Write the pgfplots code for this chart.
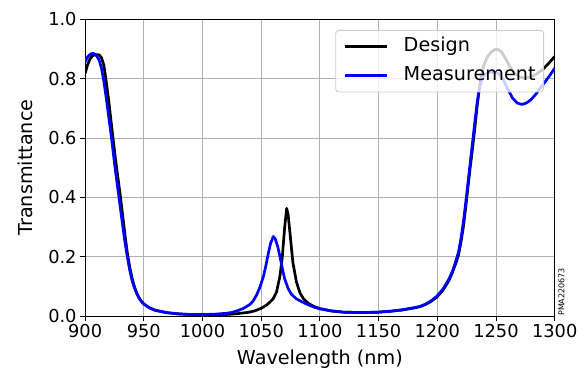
\documentclass[border=0pt]{standalone}
\usepackage{fontspec}
\setmainfont{DejaVu Sans}
\usepackage{pgfplots}
\pgfplotsset{compat=1.18}
\definecolor{gridgray}{RGB}{176,176,176}
\definecolor{legedge}{RGB}{204,204,204}
\definecolor{mblue}{RGB}{0,0,255}
\pgfplotstableread{
x y
900 0.817
902 0.845
904 0.865
906 0.876
908 0.880
910 0.881
912 0.880
914 0.870
916 0.845
918 0.790
920 0.730
922 0.660
924 0.592
926 0.525
928 0.465
930 0.405
932 0.340
934 0.272
936 0.212
938 0.165
940 0.128
942 0.099
944 0.077
946 0.061
948 0.049
950 0.040
955 0.027
960 0.019
970 0.011
980 0.007
990 0.005
1000 0.004
1010 0.004
1020 0.005
1030 0.008
1040 0.013
1045 0.018
1050 0.026
1055 0.038
1060 0.057
1063 0.080
1066 0.135
1068 0.200
1070 0.300
1071.7 0.363
1073 0.340
1075 0.260
1077 0.180
1080 0.115
1083 0.078
1086 0.058
1090 0.043
1095 0.032
1100 0.025
1110 0.017
1120 0.013
1130 0.012
1140 0.012
1150 0.013
1160 0.016
1170 0.020
1180 0.027
1185 0.031
1190 0.039
1195 0.050
1200 0.065
1205 0.088
1210 0.120
1213 0.148
1216 0.180
1218 0.205
1220 0.245
1222 0.295
1224 0.360
1226 0.430
1228 0.500
1230 0.565
1232 0.635
1234 0.710
1236 0.775
1238 0.820
1240 0.850
1243 0.875
1246 0.890
1249 0.898
1252 0.898
1255 0.888
1258 0.868
1262 0.840
1266 0.818
1270 0.806
1274 0.802
1278 0.804
1282 0.810
1286 0.820
1290 0.832
1295 0.852
1300 0.875
}\design
\pgfplotstableread{
x y
900 0.856
902 0.872
904 0.881
906 0.885
908 0.884
910 0.876
912 0.862
914 0.835
916 0.790
918 0.735
920 0.675
922 0.615
924 0.550
926 0.485
928 0.425
930 0.365
932 0.305
934 0.248
936 0.198
938 0.155
940 0.120
942 0.095
944 0.075
946 0.060
948 0.049
950 0.041
955 0.027
960 0.019
970 0.011
980 0.007
990 0.005
1000 0.005
1010 0.006
1020 0.009
1025 0.012
1030 0.018
1035 0.026
1040 0.038
1043 0.050
1046 0.070
1049 0.098
1052 0.135
1054 0.170
1056 0.210
1058 0.245
1060.3 0.268
1062 0.260
1064 0.235
1066 0.200
1068 0.160
1070 0.125
1073 0.092
1076 0.072
1080 0.058
1085 0.047
1090 0.038
1095 0.030
1100 0.024
1110 0.017
1120 0.013
1130 0.012
1140 0.012
1150 0.013
1160 0.016
1170 0.021
1180 0.028
1185 0.032
1190 0.040
1195 0.052
1200 0.068
1205 0.092
1210 0.125
1213 0.152
1216 0.188
1218 0.215
1220 0.258
1222 0.310
1224 0.375
1226 0.445
1228 0.515
1230 0.585
1232 0.655
1234 0.720
1236 0.770
1238 0.800
1241 0.815
1244 0.820
1248 0.822
1252 0.818
1256 0.798
1260 0.765
1264 0.735
1268 0.718
1272 0.713
1276 0.718
1280 0.730
1284 0.748
1288 0.770
1292 0.790
1296 0.812
1300 0.835
}\measure
\begin{document}
\begin{tikzpicture}
\begin{axis}[
  scale only axis,
  width=469.6pt, height=296.7pt,
  xmin=900, xmax=1300, ymin=0, ymax=1,
  xtick={900,950,1000,1050,1100,1150,1200,1250,1300},
  ytick={0,0.2,0.4,0.6,0.8,1.0},
  /pgf/number format/assume math mode=true,
  xticklabel style={/pgf/number format/.cd, 1000 sep={}},
  yticklabel style={/pgf/number format/.cd, fixed, fixed zerofill, precision=1},
  ticklabel style={font=\fontsize{17.8}{20}\selectfont},
  tick align=outside, tick pos=left,
  major tick length=5pt,
  tick style={black, line width=0.9pt},
  axis line style={line width=0.9pt},
  grid=major,
  grid style={color=gridgray, line width=0.9pt},
  xlabel={Wavelength (nm)},
  ylabel={Transmittance},
  label style={font=\fontsize{19.2}{22}\selectfont},
  xlabel style={at={(axis description cs:0.5,-0.165)}, anchor=base, inner sep=0pt},
  ylabel style={at={(axis description cs:-0.127,0.5)}, anchor=center, inner sep=0pt},
  legend style={at={(1,1)}, anchor=north east, xshift=-10.7pt, yshift=-10.7pt,
    draw=legedge, line width=0.9pt, rounded corners=3pt,
    fill=white, fill opacity=0.8, text opacity=1,
    font=\fontsize{19.2}{22}\selectfont, row sep=10.5pt, column sep=15.7pt,
    nodes={inner sep=0pt, text height=14pt, text depth=4.5pt},
    inner xsep=8pt, inner ysep=7pt},
  legend cell align=left,
  legend image code/.code={\draw[#1] (0pt,0pt) -- (41.6pt,0pt);},
]
\addplot[black, line width=2.7pt, line join=round] table[x=x,y=y] {\design};
\addlegendentry{Design}
\addplot[mblue, line width=2.7pt, line join=round] table[x=x,y=y] {\measure};
\addlegendentry{Measurement}
\end{axis}
\node[rotate=90, anchor=north west, inner sep=0pt, font=\fontsize{8}{9}\selectfont]
  at ([xshift=3.5pt]current axis.south east) {PMA220673};
\path ([shift={(-85.1pt,-54pt)}]current axis.south west) rectangle ++(588pt,370pt);
\end{tikzpicture}
\end{document}
